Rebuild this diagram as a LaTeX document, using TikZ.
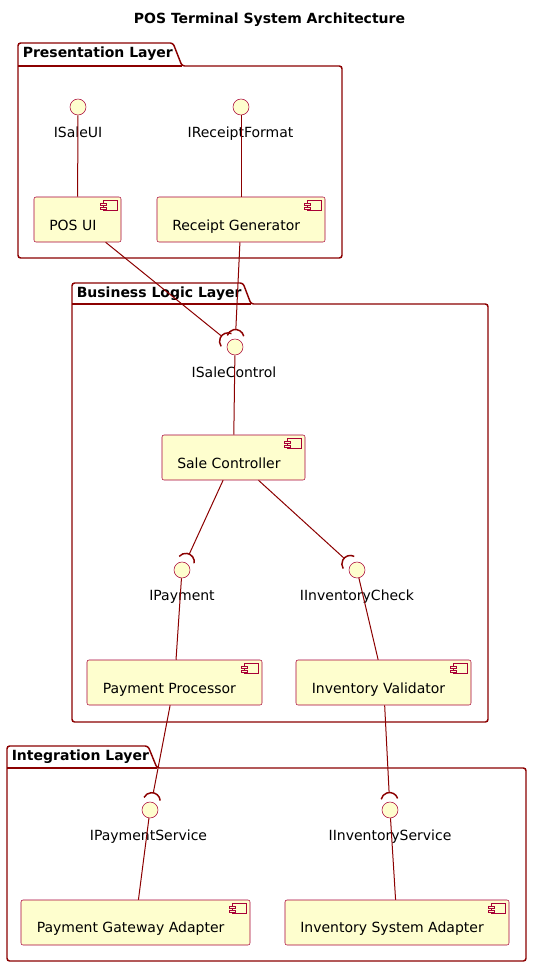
\documentclass[tikz,border=0pt]{standalone}
\usepackage{fontspec}
\setmainfont{DejaVu Sans}
\usepackage{xcolor}
\usetikzlibrary{calc}

\definecolor{umlfill}{RGB}{254,254,206}
\definecolor{umlborder}{RGB}{168,0,54}
\definecolor{umlline}{RGB}{139,0,0}

\tikzset{
  comp/.style={draw=umlborder, line width=0.4pt, fill=umlfill, inner sep=0pt, rounded corners=1.5pt},
  compicon/.style={draw=umlborder, line width=0.4pt, fill=umlfill},
  iface/.style={circle, draw=umlborder, line width=0.4pt, fill=umlfill, minimum size=12pt, inner sep=0pt},
  conn/.style={draw=umlline, line width=0.75pt},
  socket/.style={draw=umlline, line width=1.1pt},
  pkg/.style={draw=umlline, line width=1.1pt, rounded corners=2pt},
  pkgtext/.style={font=\fontsize{10.5}{12.6}\selectfont\bfseries, anchor=base west, inner sep=0pt},
  titletext/.style={font=\fontsize{10.5}{12.6}\selectfont\bfseries, anchor=base, inner sep=0pt},
  comptext/.style={anchor=base west, inner sep=0pt},
  ifacetext/.style={anchor=base, inner sep=0pt}
}

\begin{document}
\begin{tikzpicture}[x=0.75pt,y=0.75pt,yscale=-1,xscale=1,font=\fontsize{10.5}{12.6}\selectfont]
\useasboundingbox (0,0) rectangle (539,975);

% Text Node
\node[titletext] (title) at (269.5,23) {POS Terminal System Architecture};

%Shape: Package [Presentation Layer]
\draw[pkg] (18,66) -- (18,43) -- (173,43) -- (182,66) -- (342,66) -- (342,258) -- (18,258) -- cycle;
\draw[pkg] (18,66) -- (182,66);
% Text Node
\node[pkgtext] (pres-txt) at (22.5,57.5) {Presentation Layer};

%Shape: Package [Business Logic Layer]
\draw[pkg] (72,304) -- (72,283) -- (243,283) -- (251,304) -- (488,304) -- (488,722) -- (72,722) -- cycle;
\draw[pkg] (72,304) -- (251,304);
% Text Node
\node[pkgtext] (bl-txt) at (76.5,297.5) {Business Logic Layer};

%Shape: Package [Integration Layer]
\draw[pkg] (7,768) -- (7,746) -- (148,746) -- (157,768) -- (526,768) -- (526,961) -- (7,961) -- cycle;
\draw[pkg] (7,768) -- (157,768);
% Text Node
\node[pkgtext] (int-txt) at (11.5,760.5) {Integration Layer};

%Shape: Circle
\node[iface] (isaleui) at (78,107) {};
\node[iface] (ireceiptformat) at (241,107) {};
\node[iface] (isalecontrol) at (235,347) {};
\node[iface] (ipayment) at (182,570) {};
\node[iface] (iinventorycheck) at (357,570) {};
\node[iface] (ipaymentservice) at (150,810) {};
\node[iface] (iinventoryservice) at (390,810) {};

% Text Node
\node[ifacetext] (isaleui-txt) at (78,137) {ISaleUI};
\node[ifacetext] (ireceiptformat-txt) at (240.5,137) {IReceiptFormat};
\node[ifacetext] (isalecontrol-txt) at (234,377) {ISaleControl};
\node[ifacetext] (ipayment-txt) at (182,600) {IPayment};
\node[ifacetext] (iinventorycheck-txt) at (357,600) {IInventoryCheck};
\node[ifacetext] (ipaymentservice-txt) at (148.5,840) {IPaymentService};
\node[ifacetext] (iinventoryservice-txt) at (390,840) {IInventoryService};

%Shape: Rectangle
\node[comp, minimum width=65.25pt, minimum height=33.75pt] (posui) at (77.5,219.5) {};
\node[comp, minimum width=126pt, minimum height=33.75pt] (receiptgen) at (241,219.5) {};
\node[comp, minimum width=107.25pt, minimum height=33.75pt] (salectrl) at (233.5,457.5) {};
\node[comp, minimum width=131.25pt, minimum height=33.75pt] (payproc) at (174.5,682.5) {};
\node[comp, minimum width=131.25pt, minimum height=33.75pt] (invval) at (383.5,682.5) {};
\node[comp, minimum width=171.75pt, minimum height=33.75pt] (paygw) at (135.5,922.5) {};
\node[comp, minimum width=168pt, minimum height=33.75pt] (invsys) at (397,922.5) {};

% Text Node
\node[comptext] (posui-txt) at (49,230) {POS UI};
\node[comptext] (receiptgen-txt) at (172,230) {Receipt Generator};
\node[comptext] (salectrl-txt) at (177,468) {Sale Controller};
\node[comptext] (payproc-txt) at (102.5,693) {Payment Processor};
\node[comptext] (invval-txt) at (311.5,693) {Inventory Validator};
\node[comptext] (paygw-txt) at (36.5,932) {Payment Gateway Adapter};
\node[comptext] (invsys-txt) at (300,932) {Inventory System Adapter};

%Shape: Component icons
\foreach \c in {posui,receiptgen,salectrl,payproc,invval,paygw,invsys}{
  \draw[compicon] ($(\c.north east)+(-18,4)$) rectangle ++(14,10);
  \draw[compicon] ($(\c.north east)+(-21,6.5)$) rectangle ++(6,2.5);
  \draw[compicon] ($(\c.north east)+(-21,10.5)$) rectangle ++(6,2.5);
}

%Straight Lines [provided]
\draw[conn] (isaleui) -- (posui);
\draw[conn] (ireceiptformat) -- (receiptgen);
\draw[conn] (isalecontrol) -- (salectrl);
\draw[conn] (ipayment) -- (payproc);
\draw[conn] (iinventorycheck) -- (invval);
\draw[conn] (ipaymentservice) -- (paygw);
\draw[conn] (iinventoryservice) -- (invsys);

%Straight Lines [required]
\draw[conn] (posui) -- ($(isalecontrol.center)!13.125pt!(posui)$);
\draw[conn] (receiptgen) -- ($(isalecontrol.center)!13.125pt!(receiptgen)$);
\draw[conn] (salectrl) -- ($(ipayment.center)!13.125pt!(salectrl)$);
\draw[conn] (salectrl) -- ($(iinventorycheck.center)!13.125pt!(salectrl)$);
\draw[conn] (payproc) -- ($(ipaymentservice.center)!13.125pt!(payproc)$);
\draw[conn] (invval) -- ($(iinventoryservice.center)!13.125pt!(invval)$);

%Arcs: sockets (drawn with y upwards again)
\begin{scope}[yscale=-1]
\draw[socket] let \p1=($(posui)-(isalecontrol)$), \n1={atan2(\y1,\x1)} in ($(isalecontrol.center)!6.75pt!(posui)$) ++(\n1-75:8.5) arc[start angle=\n1-75, end angle=\n1+75, radius=8.5];
\draw[socket] let \p1=($(receiptgen)-(isalecontrol)$), \n1={atan2(\y1,\x1)} in ($(isalecontrol.center)!6.75pt!(receiptgen)$) ++(\n1-75:8.5) arc[start angle=\n1-75, end angle=\n1+75, radius=8.5];
\draw[socket] let \p1=($(salectrl)-(ipayment)$), \n1={atan2(\y1,\x1)} in ($(ipayment.center)!6.75pt!(salectrl)$) ++(\n1-75:8.5) arc[start angle=\n1-75, end angle=\n1+75, radius=8.5];
\draw[socket] let \p1=($(salectrl)-(iinventorycheck)$), \n1={atan2(\y1,\x1)} in ($(iinventorycheck.center)!6.75pt!(salectrl)$) ++(\n1-75:8.5) arc[start angle=\n1-75, end angle=\n1+75, radius=8.5];
\draw[socket] let \p1=($(payproc)-(ipaymentservice)$), \n1={atan2(\y1,\x1)} in ($(ipaymentservice.center)!6.75pt!(payproc)$) ++(\n1-75:8.5) arc[start angle=\n1-75, end angle=\n1+75, radius=8.5];
\draw[socket] let \p1=($(invval)-(iinventoryservice)$), \n1={atan2(\y1,\x1)} in ($(iinventoryservice.center)!6.75pt!(invval)$) ++(\n1-75:8.5) arc[start angle=\n1-75, end angle=\n1+75, radius=8.5];
\end{scope}

\end{tikzpicture}
\end{document}
